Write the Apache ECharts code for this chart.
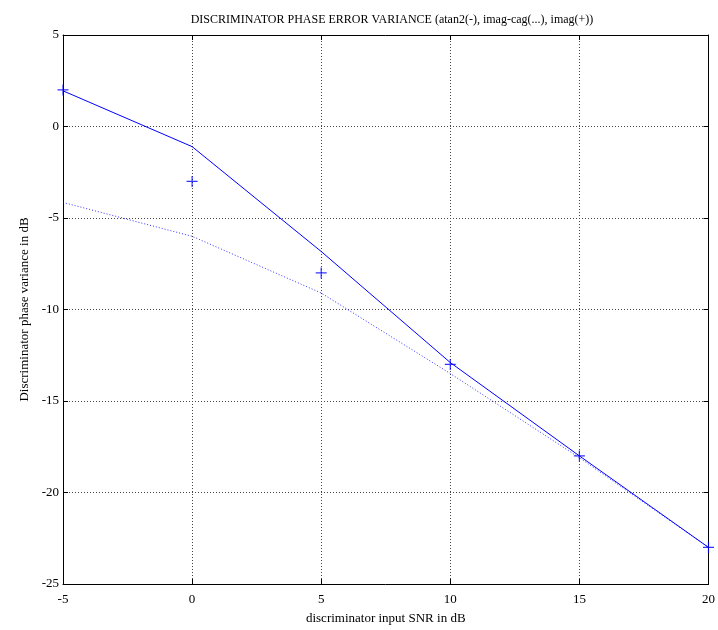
<!DOCTYPE html>
<html>
<head>
<meta charset="utf-8">
<script src="https://cdn.jsdelivr.net/npm/echarts@6/dist/echarts.min.js"></script>
<style>
  html, body { margin: 0; padding: 0; background: #fff; }
  #chart { width: 718px; height: 630px; }
</style>
</head>
<body>
<div id="chart"></div>
<script>
// SNR grid (dB) shared by all three curves
const snr = [-5, 0, 5, 10, 15, 20];
// atan2 discriminator (solid)
const atan2Var = [1.95, -1.1, -6.83, -12.9, -18.0, -23.0];
// imag-cag discriminator (dotted)
const imagCagVar = [-4.15, -6.0, -9.1, -13.5, -18.1, -23.0];
// imag discriminator (+ markers)
const imagVar = [2.0, -3.0, -8.0, -13.0, -18.0, -23.0];

const xTicks = [-5, 0, 5, 10, 15, 20];
const yTicks = [-25, -20, -15, -10, -5, 0, 5];

const pair = (xs, ys) => xs.map((x, i) => [x, ys[i]]);

const FONT = 'Liberation Serif';
const BLUE = '#0000ff';

const axisCommon = {
  type: 'value',
  axisLine: { show: true, onZero: false, lineStyle: { color: '#000', width: 1 } },
  axisTick: { show: true, inside: true, length: 5, lineStyle: { color: '#000' } },
};

const chart = echarts.init(document.getElementById('chart'));
chart.setOption({
  animation: false,
  backgroundColor: '#fff',
  title: {
    text: 'DISCRIMINATOR PHASE ERROR VARIANCE (atan2(-), imag-cag(...), imag(+))',
    left: 387, top: 9, textAlign: 'center',
    textStyle: { fontFamily: FONT, fontSize: 12, fontWeight: 'normal', color: '#000' }
  },
  grid: { left: 63, right: 6, top: 35, bottom: 43 },
  xAxis: [
    Object.assign({}, axisCommon, {
      min: xTicks[0], max: xTicks[xTicks.length - 1], interval: 5,
      position: 'bottom',
      name: 'discriminator input SNR in dB',
      nameLocation: 'middle', nameGap: 28,
      nameTextStyle: { fontFamily: FONT, fontSize: 13, color: '#000' },
      axisLabel: { fontFamily: FONT, fontSize: 13, color: '#000', margin: 9 },
      splitLine: { show: true, lineStyle: { color: '#444', type: [1, 2], width: 1 } }
    }),
    Object.assign({}, axisCommon, {
      min: xTicks[0], max: xTicks[xTicks.length - 1], interval: 5,
      position: 'top',
      axisLabel: { show: false },
      splitLine: { show: false }
    })
  ],
  yAxis: [
    Object.assign({}, axisCommon, {
      min: yTicks[0], max: yTicks[yTicks.length - 1], interval: 5,
      position: 'left',
      name: 'Discriminator phase variance in dB',
      nameLocation: 'middle', nameGap: 30,
      nameTextStyle: { fontFamily: FONT, fontSize: 13, color: '#000' },
      axisLabel: { fontFamily: FONT, fontSize: 13, color: '#000', margin: 4 },
      splitLine: { show: true, lineStyle: { color: '#444', type: [1, 2], width: 1 } }
    }),
    Object.assign({}, axisCommon, {
      min: yTicks[0], max: yTicks[yTicks.length - 1], interval: 5,
      position: 'right',
      axisLabel: { show: false },
      splitLine: { show: false }
    })
  ],
  series: [
    {
      name: 'atan2', type: 'line', data: pair(snr, atan2Var),
      showSymbol: false, symbol: 'none',
      lineStyle: { color: BLUE, width: 1 }
    },
    {
      name: 'imag-cag', type: 'line', data: pair(snr, imagCagVar),
      showSymbol: false, symbol: 'none',
      lineStyle: { color: BLUE, width: 1, type: [1, 2], opacity: 0.8 }
    },
    {
      name: 'imag', type: 'scatter', data: pair(snr, imagVar),
      symbol: 'path://M5,0L5,10M0,5L10,5', symbolSize: 11,
      itemStyle: { color: 'none', borderColor: BLUE, borderWidth: 1.2 }
    }
  ]
});
</script>
</body>
</html>
